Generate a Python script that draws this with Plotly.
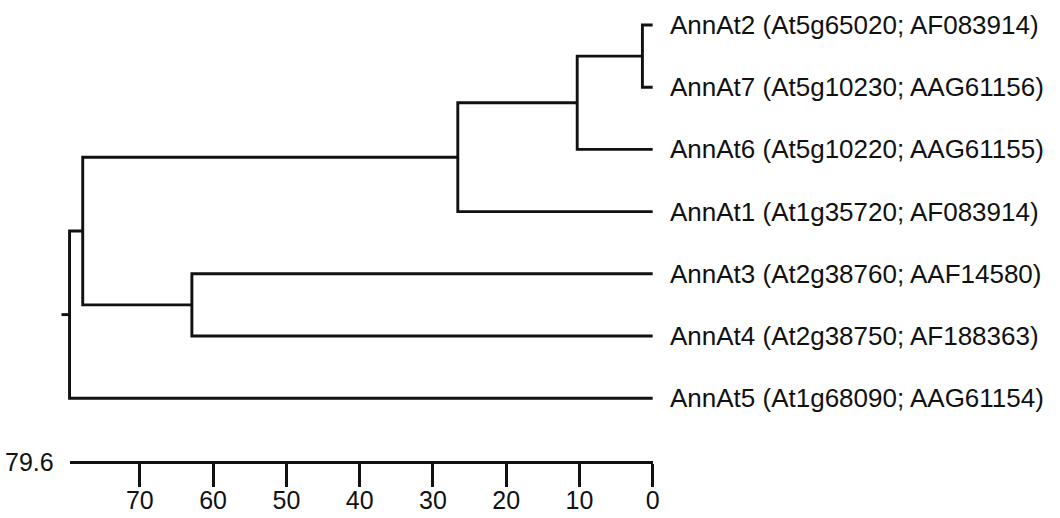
import plotly.graph_objects as go

# ---- data ----
leaf_labels = [
    "AnnAt2 (At5g65020; AF083914)",
    "AnnAt7 (At5g10230; AAG61156)",
    "AnnAt6 (At5g10220; AAG61155)",
    "AnnAt1 (At1g35720; AF083914)",
    "AnnAt3 (At2g38760; AAF14580)",
    "AnnAt4 (At2g38750; AF188363)",
    "AnnAt5 (At1g68090; AAG61154)",
]
# merges: (child_a, child_b, height); children are leaf indices or "n<k>" for earlier merges
merge_a = [0, "n0", "n1", 4, "n2", "n4"]
merge_b = [1, 2, 3, 5, "n3", 6]
merge_h = [1.4, 10.3, 26.6, 62.9, 77.8, 79.6]
root_stub = 1.1
scale_max = 79.6
scale_ticks = [0, 10, 20, 30, 40, 50, 60, 70]

# ---- build dendrogram segments ----
pos = {}
for i in range(len(leaf_labels)):
    pos[i] = (0.0, float(i))

xs, ys = [], []
for k, (a, b, h) in enumerate(zip(merge_a, merge_b, merge_h)):
    ha, ya = pos[a]
    hb, yb = pos[b]
    xs += [ha, h, h, hb, None]
    ys += [ya, ya, yb, yb, None]
    pos["n%d" % k] = (h, (ya + yb) / 2)
rh, ry = pos["n%d" % (len(merge_h) - 1)]
xs += [rh, rh + root_stub, None]
ys += [ry, ry, None]

INK = "#111111"
FONT = "Liberation Sans"
fig = go.Figure()
fig.add_trace(go.Scatter(x=xs, y=ys, mode="lines",
                         line=dict(color=INK, width=2.9),
                         hoverinfo="skip", showlegend=False))

for i, lab in enumerate(leaf_labels):
    fig.add_annotation(x=0, y=i, text=lab, xref="x", yref="y",
                       xanchor="left", yanchor="middle", showarrow=False,
                       xshift=15, font=dict(family=FONT, size=26, color=INK))

# pixel geometry mapping
W, H = 1060, 518
px0, px_max = 657, 70            # pixel x of 0 and of scale_max
ppu = (px0 - px_max) / scale_max
x_left = scale_max + px_max / ppu
x_right = -(W - px0) / ppu
y_top_px, y_step = 25, 62.2
y_top = -y_top_px / y_step
y_bot = (H - y_top_px) / y_step
axis_px = 462

fig.update_layout(
    width=W, height=H,
    margin=dict(l=0, r=0, t=0, b=0),
    paper_bgcolor="white", plot_bgcolor="rgba(0,0,0,0)",
    xaxis=dict(domain=[0, 1], range=[x_left, x_right], visible=False, fixedrange=True),
    yaxis=dict(domain=[0, 1], range=[y_bot, y_top], visible=False, fixedrange=True),
    xaxis2=dict(
        domain=[px_max / W, px0 / W], range=[scale_max, 0],
        anchor="free", position=1 - axis_px / H,
        showline=True, linecolor=INK, linewidth=2.9,
        ticks="outside", ticklen=23, tickwidth=2.6, tickcolor=INK,
        tickvals=scale_ticks, ticktext=[str(t) for t in scale_ticks],
        tickfont=dict(family=FONT, size=25, color=INK),
        ticklabelstandoff=-8,
        showgrid=False, zeroline=False, fixedrange=True,
    ),
    showlegend=False,
)
# invisible trace to activate xaxis2
fig.add_trace(go.Scatter(x=[scale_max, 0], y=[None, None], xaxis="x2", yaxis="y",
                         mode="markers", showlegend=False, hoverinfo="skip"))
fig.add_annotation(x=scale_max, y=1 - axis_px / H, xref="x2", yref="paper",
                   text=str(scale_max), showarrow=False, xanchor="right",
                   yanchor="middle", xshift=-14,
                   font=dict(family=FONT, size=25, color=INK))

fig.write_html("out.html", config={"displayModeBar": False},
               post_script="document.body.style.margin='0';document.body.style.overflow='hidden';")
